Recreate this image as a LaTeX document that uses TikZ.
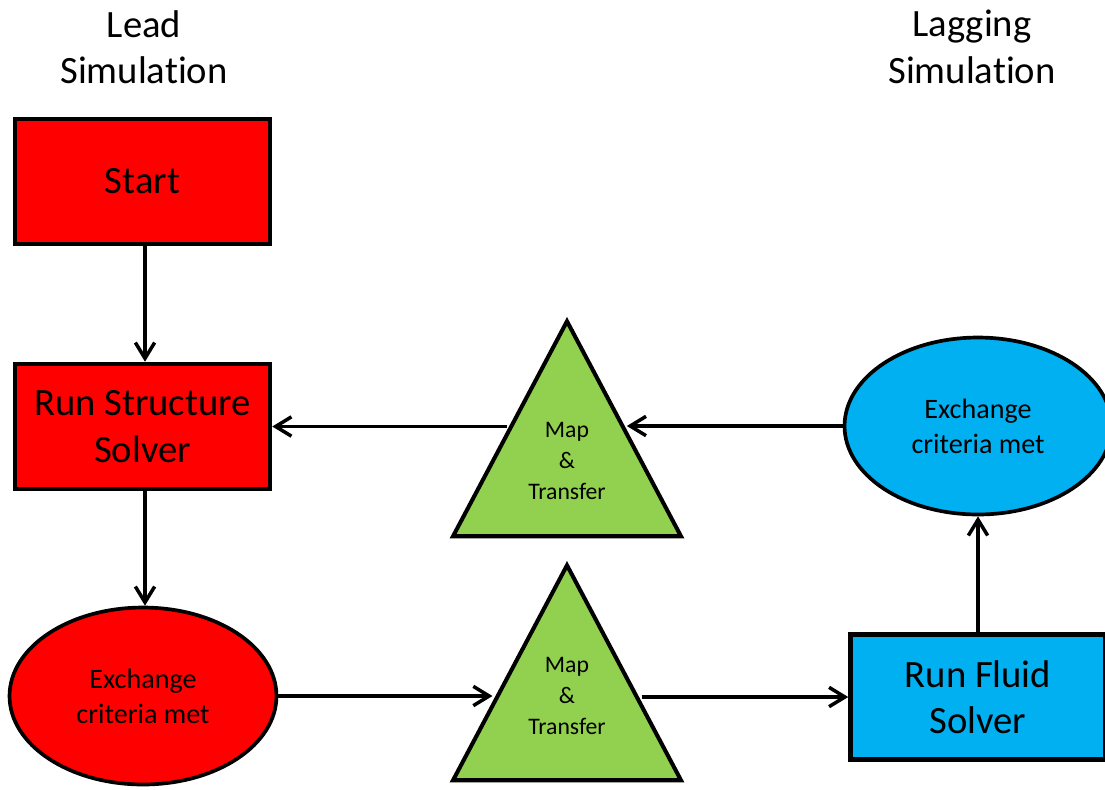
\documentclass[tikz,border=0pt]{standalone}
\usepackage{fontspec}
\setmainfont{Carlito}[Ligatures=NoCommon]
\usetikzlibrary{shapes.geometric,arrows.meta,calc}
\definecolor{leadred}{HTML}{FF0000}
\definecolor{mapgreen}{HTML}{92D050}
\definecolor{lagblue}{HTML}{00B0F0}
\tikzset{
  solverbox/.style={draw, line width=2.6pt, minimum width=5.1cm, minimum height=2.5cm,
    inner sep=0pt, align=center, font=\fontsize{22}{26.5}\selectfont},
  exchange/.style={ellipse, draw, line width=2.1pt, minimum width=5.34cm, minimum height=3.54cm,
    inner sep=0pt, align=center, font=\fontsize{16}{20}\selectfont},
  maptri/.style={isosceles triangle, isosceles triangle stretches, shape border rotate=90,
    draw, line width=2.3pt, fill=mapgreen, minimum width=4.56cm, minimum height=4.3cm,
    inner sep=0pt, anchor=apex},
  maptext/.style={align=center, inner sep=0pt, font=\fontsize{13.5}{17.6}\selectfont},
  flow/.style={-{Straight Barb[length=9pt,width=11pt]}, line width=2pt},
  simtitle/.style={align=center, font=\fontsize{22}{26.5}\selectfont}
}
\begin{document}
\begin{tikzpicture}[x=0.02cm,y=-0.02cm]
  \useasboundingbox (0,0) rectangle (1105,789);
  {
  % Column titles
  \node[simtitle] (leadtitle) at (144,47) {Lead\\Simulation};%
  \node[simtitle] (lagtitle) at (972,47) {Lagging\\Simulation};%

  % Lead simulation steps
  \node[solverbox, fill=leadred] (start) at (142.5,181.5) {Start};%
  \node[solverbox, fill=leadred] (structure) at (142.5,426.5) {Run Structure\\Solver};%
  \node[exchange, fill=leadred] (leadexch) at (143,696) {Exchange\\criteria met};%

  % Map and transfer triangles
  \node[maptri] (maptop) at (567,316) {};%
  \node[maptext] (maptoptext) at (567,461) {Map\\\&\\Transfer};%
  \node[maptri] (mapbot) at (567,560) {};%
  \node[maptext] (mapbottext) at (567,696) {Map\\\&\\Transfer};%
  \coordinate (maptopin) at ($(maptop.apex)!0.51!(maptop.right corner)$);%
  \coordinate (maptopout) at ($(maptop.apex)!0.51!(maptop.left corner)$);%
  \coordinate (mapbotin) at ($(mapbot.apex)!0.635!(mapbot.left corner)$);%
  \coordinate (mapbotout) at ($(mapbot.apex)!0.635!(mapbot.right corner)$);%

  % Lagging simulation steps
  \node[solverbox, fill=lagblue] (fluid) at (978,697) {Run Fluid\\Solver};%
  \node[exchange, fill=lagblue] (lagexch) at (978,426) {Exchange\\criteria met};%

  % Drawing the flow
  \draw[flow] (start.south -| 145,0) -- (structure.north -| 145,0);%
  \draw[flow] (structure.south -| 145,0) -- (leadexch.north -| 145,0);%
  \draw[flow] (leadexch.east) -- (leadexch.east -| mapbotin);%
  \draw[flow] (mapbotout |- fluid.west) -- (fluid.west);%
  \draw[flow] (fluid.north) -- (lagexch.south);%
  \draw[flow] (lagexch.west) -- (lagexch.west -| maptopin);%
  \draw[flow] (maptopout |- structure.east) -- (structure.east);%
  }
\end{tikzpicture}
\end{document}
